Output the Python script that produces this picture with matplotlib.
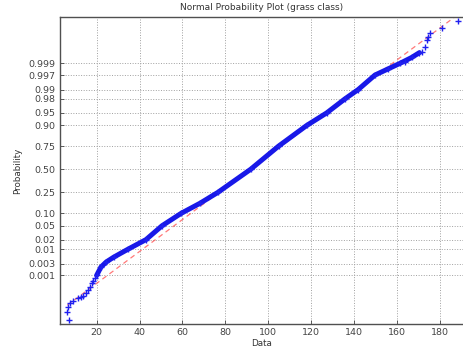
import math
import numpy as np
import matplotlib
matplotlib.use('Agg')
import matplotlib.pyplot as plt

# sorted data values and their normal scores (norminv of plotting positions)
tail_low_x = [7.2, 6.3, 6.8, 7.5, 9.1, 11.4, 12.5, 13.8, 15.0, 16.1, 17.0, 17.7, 18.5, 19.2]
tail_low_z = [-4.39, -4.15, -4.02, -3.91, -3.83, -3.76, -3.73, -3.69, -3.62, -3.52,
              -3.42, -3.32, -3.25, -3.18]
band_x = [20.0, 22.0, 24.5, 28.0, 34.6, 43.0, 50.5, 59.5, 68.2, 76.5, 91.8,
          104.8, 118.0, 127.3, 135.8, 142.0, 149.8, 156.0, 161.5, 166.9, 170.5]
band_z = [-3.09, -2.85, -2.70, -2.56, -2.33, -2.05, -1.645, -1.28, -0.99, -0.674, 0.0,
          0.674, 1.28, 1.645, 2.054, 2.326, 2.748, 2.93, 3.09, 3.26, 3.40]
tail_high_x = [163.8, 171.6, 173.1, 173.9, 174.3, 175.5, 180.9, 188.7]
tail_high_z = [3.14, 3.43, 3.57, 3.77, 3.86, 3.96, 4.11, 4.33]

# reference line through the quartiles
line_mu = 91.5
line_sigma = 21.5

prob_ticks = [0.001, 0.003, 0.01, 0.02, 0.05, 0.10, 0.25, 0.50,
              0.75, 0.90, 0.95, 0.98, 0.99, 0.997, 0.999]
prob_labels = ['0.001', '0.003', '0.01', '0.02', '0.05', '0.10', '0.25', '0.50',
               '0.75', '0.90', '0.95', '0.98', '0.99', '0.997', '0.999']
x_ticks = [20, 40, 60, 80, 100, 120, 140, 160, 180]


def norm_ppf(p):
    lo, hi = -10.0, 10.0
    for _ in range(80):
        mid = 0.5 * (lo + hi)
        if 0.5 * (1 + math.erf(mid / math.sqrt(2))) < p:
            lo = mid
        else:
            hi = mid
    return 0.5 * (lo + hi)


plt.rcParams['font.family'] = ['DejaVu Sans']
fig = plt.figure(figsize=(4.64, 3.53), dpi=100)
ax = fig.add_axes([60 / 464, 29 / 353, 1 - 60 / 464, 307 / 353])

all_x = tail_low_x + band_x + tail_high_x
xr = np.array([min(all_x), max(all_x)])
ax.plot(xr, (xr - line_mu) / line_sigma, '--', color='#ff4040', lw=0.9,
        alpha=0.7, dashes=(4, 3), zorder=2)

ax.plot(band_x, band_z, '-', color='#1818e8', lw=3.6, solid_capstyle='round', zorder=3)
ax.plot(all_x, tail_low_z + band_z + tail_high_z, '+', color='#2020f0',
        ms=5, mew=1.0, zorder=4)

ax.set_xlim(2.9, 191.3)
ax.set_ylim(-4.51, 4.44)
ax.set_xticks(x_ticks)
ax.set_yticks([norm_ppf(p) for p in prob_ticks])
ax.set_yticklabels(prob_labels)
ax.tick_params(direction='in', length=3, width=0.6, labelsize=6.8,
               colors='#444444', pad=3)
ax.grid(True, linestyle=':', color='#a0a0a0', lw=0.7)
for s in ax.spines.values():
    s.set_color('#505050')
    s.set_linewidth(1.0)

ax.set_title('Normal Probability Plot (grass class)', fontsize=6.5,
             color='#333333', pad=5)
ax.set_xlabel('Data', fontsize=6.3, color='#333333', labelpad=1)
ax.set_ylabel('Probability', fontsize=6.3, color='#333333', labelpad=5)

fig.savefig('out.png', dpi=100)
